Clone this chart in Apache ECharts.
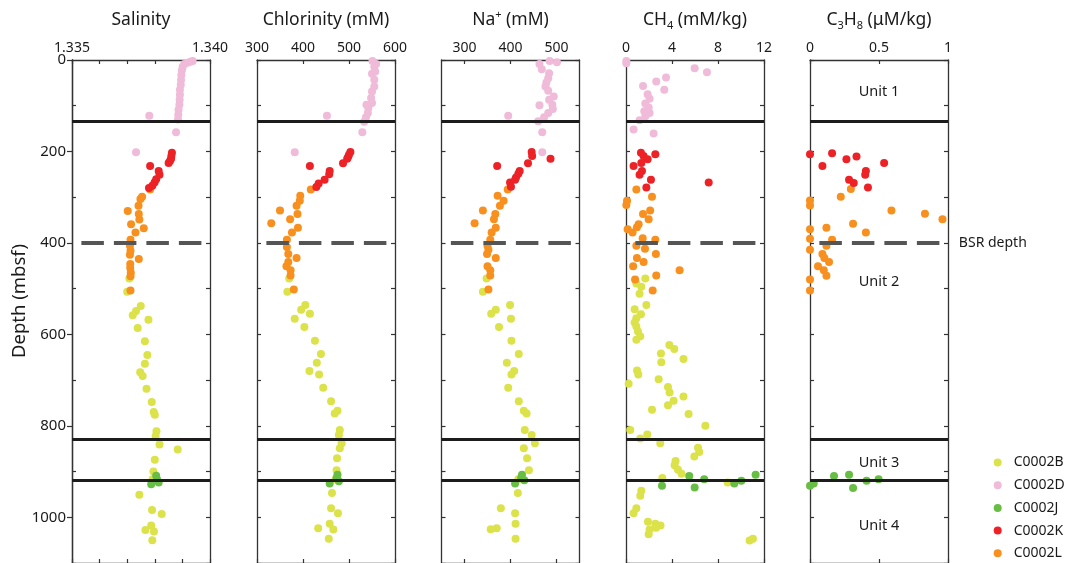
<!DOCTYPE html>
<html><head><meta charset="utf-8">
<script src="https://cdn.jsdelivr.net/npm/echarts@6/dist/echarts.min.js"></script>
<style>html,body{margin:0;padding:0;background:#fff}#c{width:1066px;height:563px}</style>
</head><body><div id="c"></div>
<script>
const sites = ['C0002B','C0002D','C0002J','C0002K','C0002L'];
const siteColors = {C0002B:'#dbe24a', C0002D:'#f0bbd8', C0002J:'#68bd45', C0002K:'#ec2227', C0002L:'#f7901e'};
const drawOrder = ['C0002B','C0002D','C0002L','C0002K','C0002J'];

// Salinity [value, depth mbsf]
const salinityB = [[1.33708,478],[1.337,507],[1.33749,538],[1.33732,549],[1.3372,558],[1.33777,568],[1.33738,586],[1.33764,615],[1.33773,645],[1.33764,664],[1.33747,683],[1.33756,691],[1.3377,719],[1.33789,748],[1.33796,770],[1.338,776],[1.33806,812],[1.33803,822],[1.33817,841],[1.33883,852],[1.338,874],[1.33795,900],[1.33792,917],[1.33744,951],[1.3379,984],[1.33825,993],[1.33787,1018],[1.33766,1028],[1.33797,1031],[1.33791,1050]];
const salinityD = [[1.33937,2],[1.33929,4],[1.33919,6],[1.33907,9],[1.33901,15],[1.33898,23],[1.33896,33],[1.33895,44],[1.33894,54],[1.33891,65],[1.33891,76],[1.3389,87],[1.33889,98],[1.33886,109],[1.33885,120],[1.33884,130],[1.3378,122],[1.33877,158],[1.33732,202]];
const salinityJ = [[1.33805,909],[1.33808,917],[1.33814,924],[1.33787,928]];
const salinityK = [[1.33862,203],[1.3386,210],[1.33859,216],[1.33855,221],[1.3385,225],[1.33783,232],[1.33814,243],[1.33817,251],[1.33805,261],[1.33799,268],[1.33791,275],[1.33779,280]];
const salinityL = [[1.33783,283],[1.33754,299],[1.33748,304],[1.33741,319],[1.33702,330],[1.33742,337],[1.33744,349],[1.33714,359],[1.3376,368],[1.3373,377],[1.33712,393],[1.3371,406],[1.33712,417],[1.3371,426],[1.33742,435],[1.33711,446],[1.33711,455],[1.33713,465],[1.33712,473],[1.33712,504]];

// Chlorinity (mM)
const chlorB = [[370,478],[366,507],[405,536],[396,546],[415,555],[382,566],[403,584],[426,614],[439,643],[430,662],[414,680],[435,688],[444,717],[461,746],[475,767],[469,773],[480,809],[478,820],[484,838],[480,849],[474,871],[473,897],[471,917],[463,947],[461,980],[476,991],[458,1014],[433,1024],[466,1027],[456,1047]];
const chlorD = [[551,2],[559,9],[555,15],[557,25],[550,30],[555,43],[555,58],[550,69],[548,83],[550,94],[538,98],[542,105],[541,116],[537,125],[533,135],[452,122],[529,158],[382,202]];
const chlorJ = [[475,907],[473,914],[478,921],[458,926]];
const chlorK = [[503,201],[500,207],[498,212],[496,216],[487,226],[415,232],[458,243],[457,250],[447,262],[434,270],[429,278]];
const chlorL = [[417,283],[394,297],[393,308],[386,319],[350,329],[388,337],[372,348],[331,357],[389,367],[376,377],[365,393],[365,409],[368,424],[386,433],[368,442],[364,451],[373,460],[373,471],[380,502]];

// Na+ (mM)
const naB = [[348,478],[340,507],[399,536],[368,546],[358,555],[401,566],[375,584],[402,614],[418,643],[392,662],[408,680],[402,688],[395,717],[418,746],[429,767],[435,773],[431,809],[446,820],[453,838],[429,849],[436,871],[440,897],[417,917],[416,947],[379,980],[410,991],[411,1014],[370,1024],[357,1026],[411,1047]];
const naD = [[485,2],[501,5],[463,9],[468,20],[484,29],[482,40],[478,49],[476,58],[482,67],[494,80],[484,87],[491,98],[463,99],[492,107],[482,116],[473,125],[460,134],[395,122],[469,158],[469,202]];
const naJ = [[425,907],[423,914],[430,919],[410,926]];
const naK = [[446,201],[447,210],[487,216],[438,226],[371,232],[420,243],[417,249],[412,257],[410,262],[399,268],[401,277]];
const naL = [[394,283],[372,297],[385,308],[377,319],[340,329],[367,337],[364,348],[322,357],[368,367],[359,377],[356,393],[350,406],[352,415],[349,424],[368,433],[350,451],[356,460],[356,471],[352,502]];

// CH4 (mM/kg)
const ch4B = [[1.68,478],[0.9,489],[1.33,496],[1.18,511],[1.77,536],[0.75,545],[1.3,556],[0.9,565],[0.75,574],[0.9,583],[1.04,594],[1.24,604],[0.9,612],[3.77,623],[4.2,632],[3.04,642],[5.0,654],[3.07,661],[0.96,679],[1.07,688],[2.84,698],[0.23,708],[3.65,715],[3.79,727],[5.0,736],[4.14,745],[3.65,755],[2.26,765],[5.44,774],[6.9,800],[0.37,809],[1.85,819],[1.24,828],[2.98,838],[6.26,848],[6.37,857],[5.94,867],[4.31,877],[4.23,886],[4.52,896],[4.83,905],[3.16,914],[8.84,924],[1.33,942],[1.24,953],[0.9,980],[0.66,991],[1.91,1010],[2.55,1014],[3.0,1018],[2.6,1023],[2.05,1027],[1.97,1037],[10.75,1051],[11.04,1047]];
const ch4D = [[0.03,2],[0.03,7],[5.97,18],[7.04,27],[2.63,47],[3.48,38],[1.48,57],[3.33,65],[1.88,75],[2.05,85],[1.68,95],[1.97,104],[1.59,112],[2.05,116],[1.68,123],[1.18,132],[0.66,152],[2.4,161]];
const ch4J = [[5.5,910],[6.8,917],[3.13,931],[5.97,935],[9.42,926],[10.03,920],[11.27,907]];
const ch4K = [[1.3,203],[1.53,210],[1.88,217],[2.55,206],[0.66,232],[1.33,225],[1.39,243],[1.18,251],[2.17,262],[1.77,279],[7.19,268]];
const ch4L = [[0.9,283],[2.26,299],[0.09,308],[0.03,317],[1.48,337],[2.1,329],[1.97,348],[1.1,359],[0.95,366],[0.14,370],[0.57,377],[1.45,390],[2.55,393],[0.9,406],[1.65,413],[2.6,424],[0.95,433],[1.53,442],[0.62,451],[4.66,460],[2.63,471],[0.79,480],[2.32,504]];

// C3H8 (uM/kg)
const c3h8B = [];
const c3h8D = [];
const c3h8J = [[0,931],[0.027,926],[0.174,910],[0.283,907],[0.312,936],[0.41,920],[0.497,917]];
const c3h8K = [[0,206],[0.16,204],[0.09,232],[0.264,217],[0.337,211],[0.537,225],[0.405,243],[0.4,251],[0.283,262],[0.317,269],[0.42,279]];
const c3h8L = [[0.296,282],[0.223,299],[0,307],[0,318],[0.59,329],[0.833,336],[0.96,348],[0.312,358],[0,370],[0.119,367],[0.405,377],[0,391],[0.16,393],[0.119,406],[0,415],[0.09,424],[0.104,433],[0.138,442],[0.058,451],[0.1,460],[0.119,472],[0,480],[0,504]];

const panelTitles = ['{m|Salinity}','{m|Chlorinity (mM)}','{m|Na}{sup|+}{m| (mM)}','{m|CH}{sub|4}{m| (mM/kg)}','{m|C}{sub|3}{m|H}{sub|8}{m| (μM/kg)}'];
const depthTitle = 'Depth (mbsf)';
const xMin = [1.335, 300, 250, 0, 0];
const xMax = [1.340, 600, 550, 12, 1];
const xTicks = [[1.335,1.336,1.337,1.338,1.339,1.340],[300,400,500,600],[300,400,500],[0,4,8,12],[0,0.5,1]];
const xLabels = [[1.335,1.340],[300,400,500,600],[300,400,500],[0,4,8,12],[0,0.5,1]];
const depthTicks = [0,100,200,300,400,500,600,700,800,900,1000,1100];
const depthMinorTicks = [100,300,500,700,900,1100];
const depthLabels = [0,200,400,600,800,1000];
const boundaryDepths = [133, 830, 920];
const bsrDepth = 400;
const unitNames = ['Unit 1','Unit 2','Unit 3','Unit 4'];
const unitDepths = [69, 486, 882, 1019];

const panelData = [
  {C0002B:salinityB, C0002D:salinityD, C0002J:salinityJ, C0002K:salinityK, C0002L:salinityL},
  {C0002B:chlorB, C0002D:chlorD, C0002J:chlorJ, C0002K:chlorK, C0002L:chlorL},
  {C0002B:naB, C0002D:naD, C0002J:naJ, C0002K:naK, C0002L:naL},
  {C0002B:ch4B, C0002D:ch4D, C0002J:ch4J, C0002K:ch4K, C0002L:ch4L},
  {C0002B:c3h8B, C0002D:c3h8D, C0002J:c3h8J, C0002K:c3h8K, C0002L:c3h8L}
];

const FONT = 'Noto Sans';
const TXT = '#1a1a1a';
const gridLefts = [72, 257, 441.5, 626, 810];
const GW = 138, GTOP = 60, GH = 506;
const axisColor = '#333';
const richTitle = {
  m:{fontSize:17.5, fontFamily:FONT, color:TXT, lineHeight:22},
  sub:{fontSize:11, fontFamily:FONT, color:TXT, lineHeight:12, verticalAlign:'bottom'},
  sup:{fontSize:11, fontFamily:FONT, color:TXT, lineHeight:12, verticalAlign:'top'}
};

const grids = gridLefts.map(l => ({left:l, top:GTOP, width:GW, height:GH}));
const xAxes = [], yAxes = [];
function fmtX(p, v){
  if (p === 0) return v.toFixed(3);
  return String(+v.toFixed(3));
}
const lineCommon = {onZero:false, lineStyle:{color:axisColor, width:1.3}};
for (let p=0;p<5;p++){
  xAxes.push({
    gridIndex:p, type:'value', position:'top', min:xMin[p], max:xMax[p],
    axisLine:lineCommon,
    axisTick:{inside:true, length:4, customValues:xTicks[p], lineStyle:{color:axisColor, width:1.2}},
    axisLabel:{customValues:xLabels[p], formatter:(v)=>fmtX(p,v), fontSize:14, fontFamily:FONT, color:TXT, margin:5},
    splitLine:{show:false},
    name: panelTitles[p], nameLocation:'middle', nameGap:29,
    nameTextStyle:{rich:richTitle}
  });
}
for (let p=0;p<5;p++){
  xAxes.push({
    gridIndex:p, type:'value', position:'bottom', min:xMin[p], max:xMax[p],
    axisLine:lineCommon,
    axisTick:{inside:true, length:4, customValues:xTicks[p], lineStyle:{color:axisColor, width:1.2}},
    axisLabel:{show:false}, splitLine:{show:false}
  });
}
for (let p=0;p<5;p++){
  yAxes.push({
    gridIndex:p, type:'value', position:'left', inverse:true, min:0, max:1100,
    axisLine:lineCommon,
    axisTick: p===0
      ? {inside:false, length:5, customValues:depthLabels, lineStyle:{color:axisColor, width:1.2}}
      : {inside:true, length:4, customValues:depthTicks, lineStyle:{color:axisColor, width:1.2}},
    axisLabel:{show:p===0, customValues:depthLabels, formatter:(v)=>String(v), fontSize:15, fontFamily:FONT, color:TXT, margin:6},
    splitLine:{show:false}
  });
}
for (let p=0;p<5;p++){
  yAxes.push({
    gridIndex:p, type:'value', position:'right', inverse:true, min:0, max:1100,
    axisLine:lineCommon,
    axisTick:{inside:true, length:4, customValues:depthTicks, lineStyle:{color:axisColor, width:1.2}},
    axisLabel:{show:false}, splitLine:{show:false}
  });
}
yAxes.push({
  gridIndex:0, type:'value', position:'left', inverse:true, min:0, max:1100,
  axisLine:lineCommon,
  axisTick:{inside:true, length:4, customValues:depthMinorTicks, lineStyle:{color:axisColor, width:1.2}},
  axisLabel:{show:false}, splitLine:{show:false}
});

const series = [];
for (let p=0;p<5;p++){
  const span = xMax[p]-xMin[p];
  const dashStart = xMin[p] + span*0.068;
  const dashEnd = xMin[p] + span*0.941;
  const dashStyle = {color:'#555', width:4, type:[22.5,10], cap:'butt'};
  const mlData = boundaryDepths.map(d => ({yAxis:d}));
  mlData.push([
    {coord:[dashStart, bsrDepth], lineStyle:dashStyle,
     label: p===4 ? {show:true, position:'end', formatter:'BSR depth', distance:19, color:TXT, fontSize:14, fontFamily:FONT} : {show:false}},
    {coord:[dashEnd, bsrDepth], lineStyle:dashStyle}
  ]);
  const s = {
    type:'scatter', xAxisIndex:p, yAxisIndex:p, data:[], silent:true, z:1,
    markLine:{silent:true, symbol:['none','none'], animation:false, label:{show:false},
      lineStyle:{color:'#1c1c1c', width:3.2, type:'solid'}, data:mlData}
  };
  if (p===4){
    s.markPoint = {silent:true, animation:false, symbol:'circle', symbolSize:1,
      itemStyle:{color:'rgba(0,0,0,0)'},
      label:{show:true, position:'inside', formatter:'{b}', color:TXT, fontSize:14.5, fontFamily:FONT},
      data: unitNames.map((n,i)=>({name:n, coord:[(xMin[4]+xMax[4])/2, unitDepths[i]]}))};
  }
  series.push(s);
  drawOrder.forEach(site => {
    series.push({
      type:'scatter', name:site, xAxisIndex:p, yAxisIndex:p, z:2,
      symbol:'circle', symbolSize:8, data:panelData[p][site],
      itemStyle:{color:siteColors[site], opacity:1}
    });
  });
}

const chart = echarts.init(document.getElementById('c'), null, {renderer:'canvas'});
chart.setOption({
  animation:false,
  backgroundColor:'#fff',
  textStyle:{fontFamily:FONT},
  grid:grids, xAxis:xAxes, yAxis:yAxes, series:series,
  graphic:[{type:'text', x:20, y:301, rotation:Math.PI/2, silent:true,
    style:{text:depthTitle, align:'center', verticalAlign:'middle', fontSize:18.5, fontFamily:FONT, fill:TXT}}],
  legend:{data:sites.map(s=>({name:s, icon:'circle'})), orient:'vertical', left:993.7, top:455.5, padding:0,
    itemWidth:8, itemHeight:8, itemGap:8.7, selectedMode:false,
    textStyle:{fontSize:14, fontFamily:FONT, color:TXT, padding:[0,0,0,7]}}
});
</script></body></html>
